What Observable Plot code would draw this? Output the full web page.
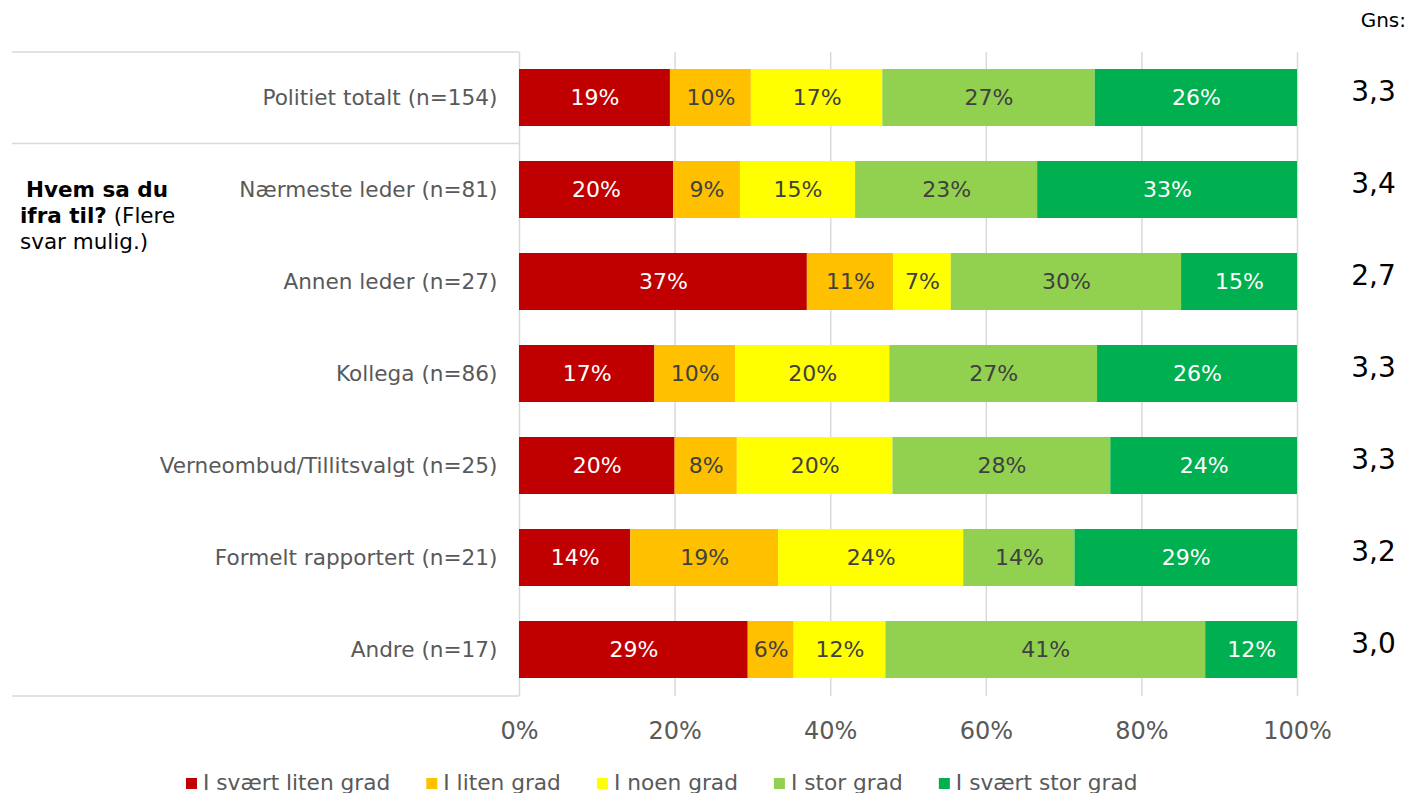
<!DOCTYPE html>
<html>
<head>
<meta charset="utf-8">
<script src="https://cdn.jsdelivr.net/npm/d3@7"></script>
<script src="https://cdn.jsdelivr.net/npm/@observablehq/plot@0.6"></script>
<style>
  html, body { margin: 0; padding: 0; background: #fff; }
  svg { display: block; }
</style>
</head>
<body>
<div id="chart"></div>
<script>
const rows = [
  "Politiet totalt (n=154)",
  "Nærmeste leder (n=81)",
  "Annen leder (n=27)",
  "Kollega (n=86)",
  "Verneombud/Tillitsvalgt (n=25)",
  "Formelt rapportert (n=21)",
  "Andre (n=17)"
];
const categories = ["I svært liten grad", "I liten grad", "I noen grad", "I stor grad", "I svært stor grad"];
const colors = ["#C00000", "#FFC000", "#FFFF00", "#92D050", "#00B050"];
const sværtLiten = [19.4, 19.8, 37.0, 17.4, 20.0, 14.3, 29.4];
const liten      = [10.4,  8.6, 11.1, 10.4,  8.0, 19.0,  5.9];
const noen       = [16.9, 14.8,  7.4, 19.8, 20.0, 23.8, 11.8];
const stor       = [27.3, 23.4, 29.6, 26.7, 28.0, 14.3, 41.1];
const sværtStor  = [26.0, 33.4, 14.9, 25.7, 24.0, 28.6, 11.8];
const gns = ["3,3", "3,4", "2,7", "3,3", "3,3", "3,2", "3,0"];
const xTicks = [0, 20, 40, 60, 80, 100];
const gnsHeader = "Gns:";
const questionBold1 = "Hvem sa du";
const questionBold2 = "ifra til?";
const questionRest2 = " (Flere";
const questionLine3 = "svar mulig.)";

const series = [sværtLiten, liten, noen, stor, sværtStor];
const data = rows.flatMap((r, i) => categories.map((c, j) => ({row: r, cat: c, value: series[j][i]})));
const lightLabel = new Set([categories[0], categories[4]]);
const label = d => Math.round(d.value) + "%";

const FONT = "'DejaVu Sans', Verdana, sans-serif";

const plot = Plot.plot({
  width: 1409,
  height: 793,
  marginLeft: 519,
  marginRight: 112,
  marginTop: 52,
  marginBottom: 97,
  style: {fontFamily: FONT, color: "#595959", background: "white", overflow: "visible"},
  x: {domain: [0, 100]},
  y: {domain: rows, paddingInner: 0.38, paddingOuter: 0.19},
  color: {domain: categories, range: colors},
  marks: [
    Plot.ruleX(xTicks, {stroke: "#d9d9d9", strokeWidth: 1.5}),
    Plot.barX(data, {x: "value", y: "row", fill: "cat"}),
    Plot.text(data, Plot.stackX({x: "value", y: "row", z: "cat",
      text: d => lightLabel.has(d.cat) ? label(d) : "", fill: "white", fontSize: 22})),
    Plot.text(data, Plot.stackX({x: "value", y: "row", z: "cat",
      text: d => lightLabel.has(d.cat) ? "" : label(d), fill: "#404040", fontSize: 22})),
    Plot.text(rows, {y: d => d, text: (d, i) => gns[i], frameAnchor: "right", textAnchor: "middle",
      dx: 76, dy: -6, fontSize: 28, fill: "black"}),
    Plot.axisX(xTicks, {tickSize: 0, tickPadding: 25, fontSize: 24, tickFormat: d => d + "%", fill: "#595959", label: null}),
    Plot.axisY({tickSize: 0, tickPadding: 22, fontSize: 21.6, fill: "#595959", label: null})
  ]
});

document.getElementById("chart").appendChild(plot);

// Decorations derived from the scales
const svg = d3.select(plot);
const ys = plot.scale("y");
const xs = plot.scale("x");
const xZero = xs.apply(0);
const frameTop = 52, frameBottom = 793 - 97;
const sep = (ys.apply(rows[0]) + ys.bandwidth + ys.apply(rows[1])) / 2;
const tableLeft = 12;
svg.append("g").selectAll("line").data([frameTop, sep, frameBottom]).join("line")
  .attr("x1", tableLeft).attr("x2", xZero).attr("y1", d => d).attr("y2", d => d)
  .attr("stroke", "#d9d9d9").attr("stroke-width", 1.5);

// Gns header
svg.append("text").attr("x", 1406).attr("y", 27).attr("text-anchor", "end")
  .attr("font-family", FONT).attr("font-size", 20).attr("fill", "black").text(gnsHeader);

// Question text
const q = svg.append("text").attr("font-family", FONT).attr("font-size", 21.5)
  .attr("fill", "black").attr("text-anchor", "start");
q.append("tspan").attr("x", 26).attr("y", 197).attr("font-weight", "bold").text(questionBold1);
const l2 = q.append("tspan").attr("x", 20).attr("y", 223);
l2.append("tspan").attr("font-weight", "bold").text(questionBold2);
l2.append("tspan").text(questionRest2);
q.append("tspan").attr("x", 20).attr("y", 249).text(questionLine3);

// Legend
const lg = svg.append("g").attr("text-anchor", "start");
let lx = 186;
categories.forEach((c, i) => {
  lg.append("rect").attr("x", lx).attr("y", 778).attr("width", 11).attr("height", 11).attr("fill", colors[i]);
  const t = lg.append("text").attr("x", lx + 17).attr("y", 790).attr("text-anchor", "start")
    .attr("font-family", FONT).attr("font-size", 21.7).attr("fill", "#595959").text(c);
  lx += 17 + t.node().getComputedTextLength() + 36;
});
</script>
</body>
</html>
